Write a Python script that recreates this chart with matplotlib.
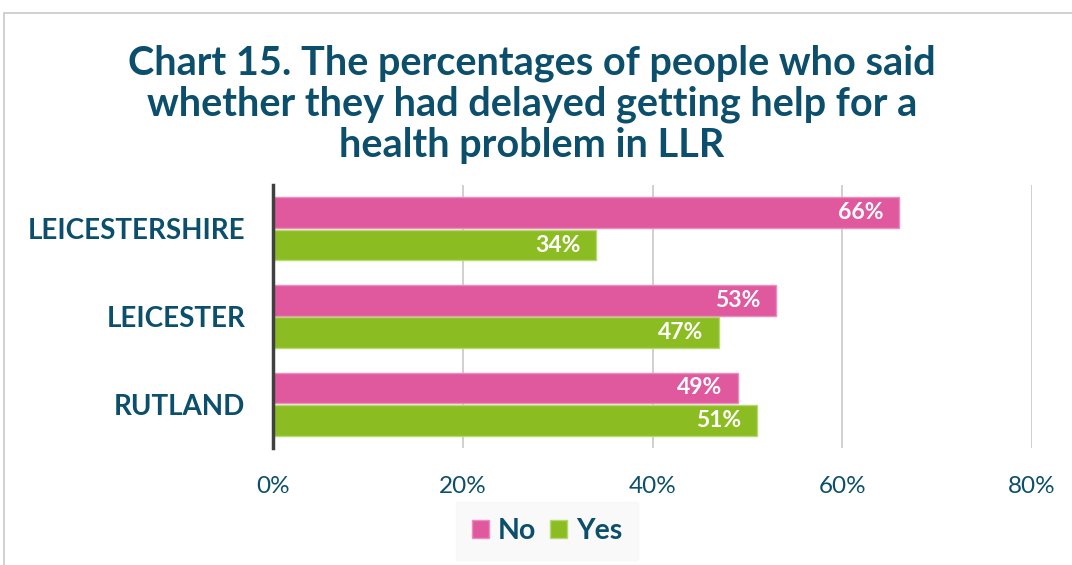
import numpy as np
import matplotlib.pyplot as plt
from matplotlib.patches import Rectangle

# data
regions = ["LEICESTERSHIRE", "LEICESTER", "RUTLAND"]
no_vals = [66, 53, 49]
yes_vals = [34, 47, 51]
title = ("Chart 15. The percentages of people who said\n"
         "whether they had delayed getting help for a\n"
         "health problem in LLR")

# colours
teal = "#0B4F6C"
pink = "#E0589E"
green = "#8BBD22"

plt.rcParams['font.family'] = ['Lato', 'DejaVu Sans']

fig = plt.figure(figsize=(10.72, 5.65), dpi=100)
ax = fig.add_axes([273/1072, 1-448/565, (1032-273)/1072, (448-185)/565])

# light border round the chart
fig.patches.append(Rectangle((4/1072, -0.01), 1.02, 1-13/565 + 0.01,
                             transform=fig.transFigure, fill=False,
                             edgecolor="#C8C8C8", linewidth=1.2))

y = np.arange(len(regions))
h = 0.35
b1 = ax.barh(y - 0.185, no_vals, height=h, color=pink, edgecolor="#EC8DBD",
             linewidth=1, label="No", zorder=3)
b2 = ax.barh(y + 0.185, yes_vals, height=h, color=green, edgecolor="#B5D873",
             linewidth=1, label="Yes", zorder=3)

for bars, vals in [(b1, no_vals), (b2, yes_vals)]:
    for bar, v in zip(bars, vals):
        ax.annotate(f"{v}%", (bar.get_width(), bar.get_y() + bar.get_height()/2),
                    xytext=(-11, 0), textcoords="offset points",
                    ha="right", va="center", color="white",
                    fontsize=16.5, fontweight="bold", zorder=4)

ax.set_xlim(0, 80)
ax.set_ylim(2.5, -0.5)
ax.set_xticks([0, 20, 40, 60, 80])
ax.set_xticklabels(["0%", "20%", "40%", "60%", "80%"])
ax.set_yticks(y)
ax.set_yticklabels(regions)
ax.tick_params(axis="x", length=0, labelsize=17.5, labelcolor=teal, pad=20)
ax.tick_params(axis="y", length=0, labelsize=20, labelcolor=teal, pad=20)
for lab in ax.get_yticklabels():
    lab.set_fontweight("bold")

ax.grid(axis="x", color="#C8C8C8", linewidth=1.2, zorder=0)
for s in ["top", "right", "bottom"]:
    ax.spines[s].set_visible(False)
ax.spines["left"].set_color("#404040")
ax.spines["left"].set_linewidth(2.5)
ax.spines["left"].set_zorder(5)

fig.text(532/1072, 1-104/565, title, ha="center", va="center",
         fontsize=28.5, fontweight="bold", color=teal, linespacing=1.12)

leg = fig.legend(loc="center", bbox_to_anchor=(547/1072, 1-531/565),
                 ncol=2, frameon=True, fontsize=20.5, handlelength=0.6,
                 handleheight=0.6, handletextpad=0.3, columnspacing=0.5,
                 borderpad=0.25, borderaxespad=0)
leg.get_frame().set_facecolor("#F8F8F8")
leg.get_frame().set_edgecolor("#F8F8F8")
leg.get_frame().set_boxstyle("square")
for t in leg.get_texts():
    t.set_color(teal)
    t.set_fontweight("bold")

fig.savefig("out.png", dpi=100)
